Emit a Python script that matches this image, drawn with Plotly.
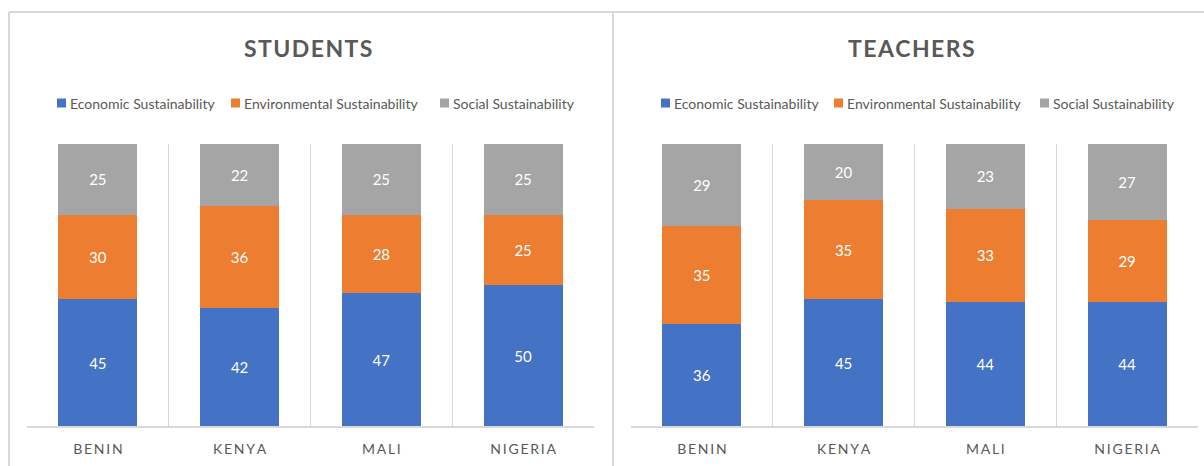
import plotly.graph_objects as go

countries = ["BENIN", "KENYA", "MALI", "NIGERIA"]
series_names = ["Economic Sustainability", "Environmental Sustainability", "Social Sustainability"]
students_economic = [45, 42, 47, 50]
students_environmental = [30, 36, 28, 25]
students_social = [25, 22, 25, 25]
teachers_economic = [36, 45, 44, 44]
teachers_environmental = [35, 35, 33, 29]
teachers_social = [29, 20, 23, 27]
panel_titles = ["STUDENTS", "TEACHERS"]
colors = ["#4472C4", "#ED7D31", "#A5A5A5"]

W, H = 1204, 466
FONT = "Lato, Roboto, sans-serif"
GRAY = "#595959"
GRID = "#D9D9D9"

# layout geometry (pixels)
plot_x = [(27, 594), (631, 1198)]
plot_top, plot_bottom = 144, 426
title_cx = [308, 911]
title_cy = 48
legend_cy = 103
legend_sq_left = [[57, 231, 440], [661, 834, 1040]]
legend_sq = 9


def spaced(s, sep="\u2009"):
    return sep.join(list(s))


def px(x):
    return x / W


def py(y):
    return 1 - y / H


cat_labels = [spaced(c, "\u200a\u200a") for c in countries]

fig = go.Figure()
panels = [
    ("x", "y", [students_economic, students_environmental, students_social]),
    ("x2", "y2", [teachers_economic, teachers_environmental, teachers_social]),
]
for xa, ya, vals in panels:
    for name, v, c in zip(series_names, vals, colors):
        fig.add_trace(go.Bar(
            x=cat_labels, y=v, name=name, marker=dict(color=c, line=dict(width=0)),
            xaxis=xa, yaxis=ya, showlegend=False,
            text=[str(t) for t in v], textposition="inside", insidetextanchor="middle",
            textfont=dict(color="white", size=15, family=FONT),
            hoverinfo="skip",
        ))

axis_common = dict(
    type="category", tickson="boundaries", showgrid=True, gridcolor=GRID, gridwidth=1,
    showline=True, linecolor=GRID, linewidth=2, ticks="", range=[-0.5, 3.5],
    tickfont=dict(family=FONT, size=14, color=GRAY), fixedrange=True, ticklabelstandoff=9,
)
yaxis_common = dict(range=[0, 100], showgrid=False, showticklabels=False, zeroline=False,
                    showline=False, fixedrange=True)

annotations = []
shapes = []
for p in range(2):
    annotations.append(dict(
        text="<b>" + spaced(panel_titles[p], "\u200a") + "</b>",
        x=px(title_cx[p]), y=py(title_cy), xref="paper", yref="paper",
        showarrow=False, xanchor="center", yanchor="middle",
        font=dict(family=FONT, size=23, color=GRAY)))
    for i, (name, c) in enumerate(zip(series_names, colors)):
        x0 = legend_sq_left[p][i]
        shapes.append(dict(type="rect", xref="paper", yref="paper",
                           x0=px(x0), x1=px(x0 + legend_sq),
                           y0=py(legend_cy + legend_sq / 2), y1=py(legend_cy - legend_sq / 2),
                           fillcolor=c, line=dict(width=0)))
        annotations.append(dict(text=name, x=px(x0 + legend_sq + 2), y=py(legend_cy),
                                xref="paper", yref="paper", showarrow=False,
                                xanchor="left", yanchor="middle",
                                font=dict(family=FONT, size=14, color=GRAY)))

shapes += [
    dict(type="line", xref="paper", yref="paper", x0=px(9), x1=1, y0=py(12), y1=py(12),
         line=dict(color=GRID, width=2)),
    dict(type="line", xref="paper", yref="paper", x0=px(9), x1=px(9), y0=py(12), y1=0,
         line=dict(color=GRID, width=2)),
    dict(type="line", xref="paper", yref="paper", x0=px(613), x1=px(613), y0=py(12), y1=0,
         line=dict(color=GRID, width=2)),
]

fig.update_layout(
    width=W, height=H, margin=dict(l=0, r=0, t=0, b=0, pad=0),
    paper_bgcolor="white", plot_bgcolor="white",
    barmode="stack", bargap=0.443,
    xaxis=dict(domain=[px(plot_x[0][0]), px(plot_x[0][1])], anchor="y", **axis_common),
    xaxis2=dict(domain=[px(plot_x[1][0]), px(plot_x[1][1])], anchor="y2", **axis_common),
    yaxis=dict(domain=[py(plot_bottom), py(plot_top)], anchor="x", **yaxis_common),
    yaxis2=dict(domain=[py(plot_bottom), py(plot_top)], anchor="x2", **yaxis_common),
    showlegend=False,
    annotations=annotations,
    shapes=shapes,
)

fig.write_html("out.html", config={"displayModeBar": False},
               post_script="document.body.style.margin='0px';")
